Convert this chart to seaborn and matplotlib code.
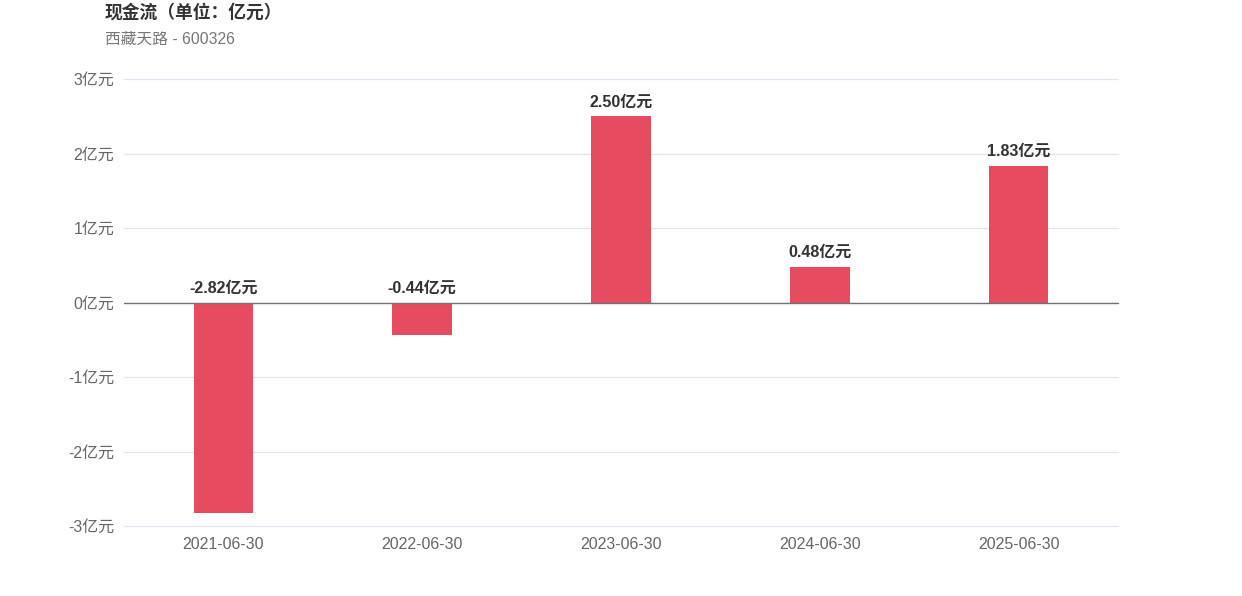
import numpy as np
import pandas as pd
import matplotlib
matplotlib.use('Agg')
import matplotlib.pyplot as plt
import seaborn as sns

# Data (unit: 亿元)
dates = ['2021-06-30', '2022-06-30', '2023-06-30', '2024-06-30', '2025-06-30']
cash_flow = [-2.82, -0.44, 2.50, 0.48, 1.83]
y_ticks = [-3, -2, -1, 0, 1, 2, 3]

title = '现金流（单位：亿元）'
subtitle = '西藏天路 - 600326'

df = pd.DataFrame({'date': dates, 'value': cash_flow})

sns.set_theme(style='white')
plt.rcParams['font.family'] = ['Liberation Sans', 'Noto Sans CJK SC', 'DejaVu Sans']

fig = plt.figure(figsize=(12.42, 5.96), dpi=100)
ax = fig.add_axes([0.0998, 0.1174, 0.8003, 0.75])

sns.barplot(data=df, x='date', y='value', color='#e64b5f', width=0.3,
            saturation=1, linewidth=0, ax=ax, zorder=3)

ax.set_ylim(-3, 3)
ax.set_yticks(y_ticks)
ax.set_yticklabels([f'{t}亿元' for t in y_ticks], color='#666666', fontsize=11.5)
ax.set_xticklabels(dates, color='#666666', fontsize=11.5)
ax.tick_params(axis='y', length=0, pad=7)
ax.tick_params(axis='x', length=0, pad=8)
ax.set_xlabel('')
ax.set_ylabel('')

for t in y_ticks:
    ax.axhline(t, color='#e0e6f1' if t != 0 else '#6e7079', lw=0.9 if t != 0 else 1.0,
               zorder=1 if t != 0 else 4, clip_on=False)

for s in ax.spines.values():
    s.set_visible(False)

for i, v in enumerate(cash_flow):
    ax.annotate(f'{v:.2f}亿元', xy=(i, max(v, 0)), xytext=(0, 5),
                textcoords='offset points', ha='center', va='bottom',
                fontsize=11.5, fontweight='bold', color='#333333')

fig.text(105 / 1242, 1 - 13 / 596, title, fontsize=12.8, fontweight='bold',
         color='#333333', ha='left', va='center')
fig.text(105 / 1242, 1 - 39 / 596, subtitle, fontsize=11.3, color='#777777',
         ha='left', va='center')

fig.savefig('out.png', dpi=100)
